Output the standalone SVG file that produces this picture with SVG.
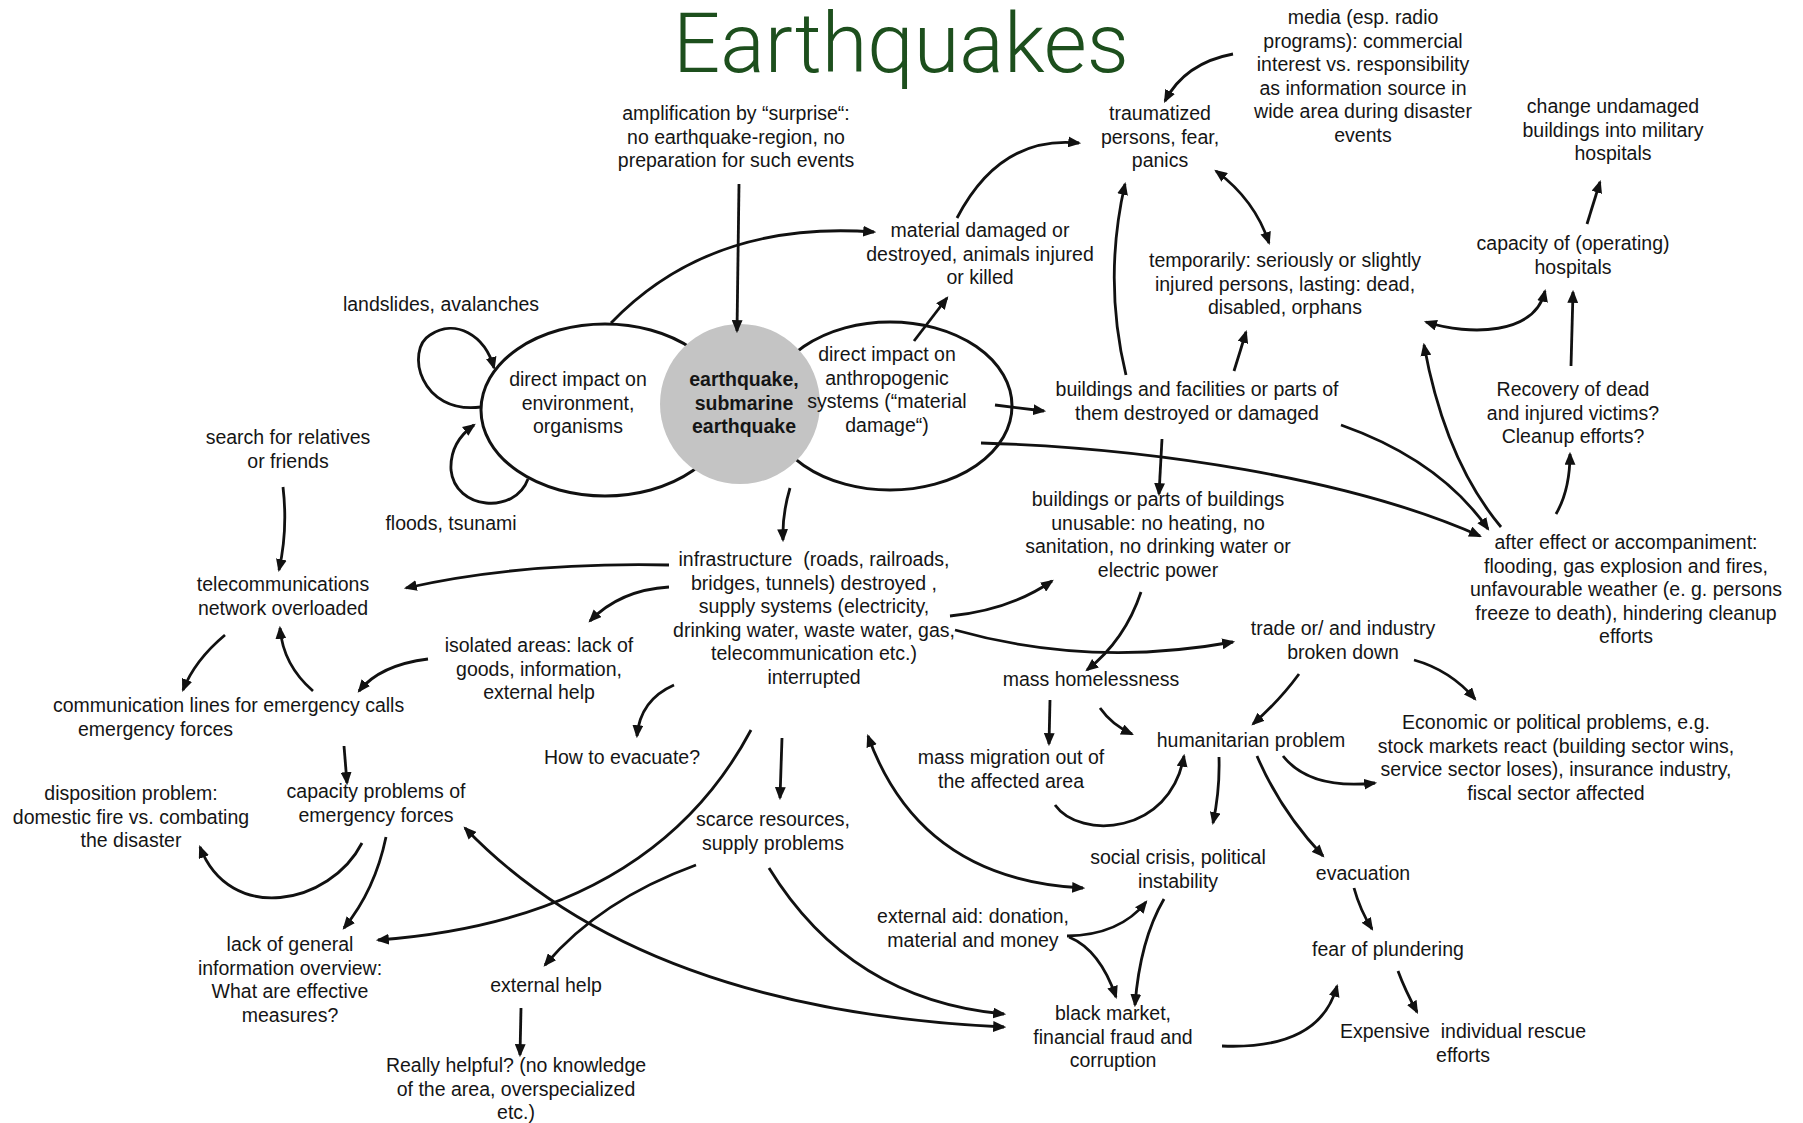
<svg xmlns="http://www.w3.org/2000/svg" width="1803" height="1123" viewBox="0 0 1803 1123">
  <style>
    .t { font-family: "Liberation Sans", Arial, sans-serif; font-size: 19.5px; fill: #151515; text-anchor: middle; }
    .b { font-weight: bold; }
    .title { font-family: Roboto, "Liberation Sans", sans-serif; font-weight: 300; font-size: 84px; fill: #1d4f1d; text-anchor: middle; }
    .c { fill: none; stroke: #111; stroke-width: 2.8; marker-end: url(#ah); }
    .d { marker-start: url(#ah); }
  </style>
  <defs>
    <marker id="ah" viewBox="0 0 12 10" refX="10" refY="5" markerWidth="13" markerHeight="11" markerUnits="userSpaceOnUse" orient="auto-start-reverse">
      <path d="M0,0 L12,5 L0,10 z" fill="#111"/>
    </marker>
  </defs>
  <rect width="1803" height="1123" fill="#fff"/>

  <text class="title" x="901" y="72" textLength="456" lengthAdjust="spacingAndGlyphs">Earthquakes</text>

  <!-- central core: two impact ellipses with the quake disc on top -->
  <g id="core">
    <ellipse cx="605" cy="410" rx="124" ry="86" fill="#fff" stroke="#111" stroke-width="3"/>
    <ellipse cx="890" cy="406" rx="122" ry="84" fill="#fff" stroke="#111" stroke-width="3"/>
    <circle cx="740" cy="404" r="80" fill="#c4c4c4"/>
  </g>

  <g id="connectors">
    <path class="c" d="M1233,54 Q1185,63 1165,101"/>
    <path class="c" d="M957,218 Q1000,135 1079,143"/>
    <path class="c" d="M739,184 L737,331"/>
    <path class="c" d="M611,323 Q710,220 874,232"/>
    <path class="c" d="M914,341 L947,298"/>
    <path class="c" d="M995,405 Q1020,408 1044,411"/>
    <path class="c" d="M981,443 C1150,448 1350,478 1480,536"/>
    <path class="c" d="M1126,375 Q1103,280 1125,184"/>
    <path class="c" d="M1234,371 Q1240,352 1246,332"/>
    <path class="c d" d="M1216,171 Q1255,200 1269,243"/>
    <path class="c" d="M1341,425 Q1440,460 1488,529"/>
    <path class="c" d="M1162,439 L1159,494"/>
    <path class="c" d="M1501,527 Q1445,460 1424,345"/>
    <path class="c d" d="M1426,322 C1470,336 1535,335 1545,291"/>
    <path class="c" d="M1587,224 L1600,182"/>
    <path class="c" d="M1571,366 L1573,292"/>
    <path class="c" d="M1556,514 Q1570,490 1570,454"/>
    <path class="c" d="M790,488 Q782,515 783,540"/>
    <path class="c" d="M669,565 Q520,562 406,588"/>
    <path class="c" d="M669,587 Q620,590 590,621"/>
    <path class="c" d="M950,616 Q1010,610 1052,581"/>
    <path class="c" d="M955,630 Q1090,668 1233,642"/>
    <path class="c" d="M1141,592 Q1125,640 1087,670"/>
    <path class="c" d="M674,685 Q640,700 637,736"/>
    <path class="c" d="M751,730 Q650,920 378,940"/>
    <path class="c" d="M782,738 L780,798"/>
    <path class="c d" d="M868,736 Q920,880 1083,888"/>
    <path class="c" d="M225,635 Q195,660 183,690"/>
    <path class="c" d="M313,691 Q283,665 280,628"/>
    <path class="c" d="M428,659 Q380,665 359,691"/>
    <path class="c" d="M283,487 Q288,530 279,570"/>
    <path class="c" d="M344,746 L347,783"/>
    <path class="c" d="M362,843 C330,905 230,925 200,847"/>
    <path class="c" d="M386,837 Q375,890 344,928"/>
    <path class="c d" d="M465,828 Q640,1010 1004,1027"/>
    <path class="c" d="M769,868 Q850,1000 1004,1014"/>
    <path class="c" d="M696,865 Q600,900 545,965"/>
    <path class="c" d="M521,1008 L520,1055"/>
    <path class="c" d="M1050,700 L1049,744"/>
    <path class="c" d="M1100,708 Q1112,725 1132,734"/>
    <path class="c" d="M1299,674 Q1280,700 1253,724"/>
    <path class="c" d="M1414,660 Q1450,670 1475,699"/>
    <path class="c" d="M1283,756 Q1310,790 1375,783"/>
    <path class="c" d="M1055,805 C1080,840 1170,835 1184,756"/>
    <path class="c" d="M1219,757 Q1220,790 1213,823"/>
    <path class="c" d="M1257,756 Q1280,810 1323,856"/>
    <path class="c" d="M1164,899 Q1140,940 1135,1005"/>
    <path class="c" d="M1067,936 Q1120,935 1146,902"/>
    <path class="c" d="M1069,937 Q1100,950 1116,997"/>
    <path class="c" d="M1354,888 Q1360,910 1372,929"/>
    <path class="c" d="M1222,1046 Q1320,1050 1337,986"/>
    <path class="c" d="M1398,971 Q1405,990 1417,1012"/>
    <!-- self loops on the environment ellipse -->
    <path class="c" d="M481,407 C420,415 405,350 430,335 C455,318 485,335 494,368"/>
    <path class="c" d="M528,479 C515,515 455,510 451,470 C450,450 460,435 474,425"/>
  </g>

  <g id="n-media"><text class="t"><tspan x="1363" y="24">media (esp. radio</tspan><tspan x="1363" y="47.5">programs): commercial</tspan><tspan x="1363" y="71">interest vs. responsibility</tspan><tspan x="1363" y="94.5">as information source in</tspan><tspan x="1363" y="118">wide area during disaster</tspan><tspan x="1363" y="141.5">events</tspan></text></g>
  <g id="n-traumatized"><text class="t"><tspan x="1160" y="120">traumatized</tspan><tspan x="1160" y="143.5">persons, fear,</tspan><tspan x="1160" y="167">panics</tspan></text></g>
  <g id="n-amplification"><text class="t"><tspan x="736" y="120">amplification by “surprise“:</tspan><tspan x="736" y="143.5">no earthquake-region, no</tspan><tspan x="736" y="167">preparation for such events</tspan></text></g>
  <g id="n-military"><text class="t"><tspan x="1613" y="113">change undamaged</tspan><tspan x="1613" y="136.5">buildings into military</tspan><tspan x="1613" y="160">hospitals</tspan></text></g>
  <g id="n-material"><text class="t"><tspan x="980" y="237">material damaged or</tspan><tspan x="980" y="260.5">destroyed, animals injured</tspan><tspan x="980" y="284">or killed</tspan></text></g>
  <g id="n-injured"><text class="t"><tspan x="1285" y="267">temporarily: seriously or slightly</tspan><tspan x="1285" y="290.5">injured persons, lasting: dead,</tspan><tspan x="1285" y="314">disabled, orphans</tspan></text></g>
  <g id="n-hospitals"><text class="t"><tspan x="1573" y="250">capacity of (operating)</tspan><tspan x="1573" y="273.5">hospitals</tspan></text></g>
  <g id="n-landslides"><text class="t" x="441" y="311">landslides, avalanches</text></g>
  <g id="n-environment"><text class="t"><tspan x="578" y="386">direct impact on</tspan><tspan x="578" y="409.5">environment,</tspan><tspan x="578" y="433">organisms</tspan></text></g>
  <g id="n-quake"><text class="t b"><tspan x="744" y="386">earthquake,</tspan><tspan x="744" y="409.5">submarine</tspan><tspan x="744" y="433">earthquake</tspan></text></g>
  <g id="n-anthropogenic"><text class="t"><tspan x="887" y="361">direct impact on</tspan><tspan x="887" y="384.5">anthropogenic</tspan><tspan x="887" y="408">systems (“material</tspan><tspan x="887" y="431.5">damage“)</tspan></text></g>
  <g id="n-buildings"><text class="t"><tspan x="1197" y="396">buildings and facilities or parts of</tspan><tspan x="1197" y="419.5">them destroyed or damaged</tspan></text></g>
  <g id="n-recovery"><text class="t"><tspan x="1573" y="396">Recovery of dead</tspan><tspan x="1573" y="419.5">and injured victims?</tspan><tspan x="1573" y="443">Cleanup efforts?</tspan></text></g>
  <g id="n-search"><text class="t"><tspan x="288" y="444">search for relatives</tspan><tspan x="288" y="467.5">or friends</tspan></text></g>
  <g id="n-floods"><text class="t" x="451" y="530">floods, tsunami</text></g>
  <g id="n-unusable"><text class="t"><tspan x="1158" y="506">buildings or parts of buildings</tspan><tspan x="1158" y="529.5">unusable: no heating, no</tspan><tspan x="1158" y="553">sanitation, no drinking water or</tspan><tspan x="1158" y="576.5">electric power</tspan></text></g>
  <g id="n-aftereffect"><text class="t"><tspan x="1626" y="549">after effect or accompaniment:</tspan><tspan x="1626" y="572.5">flooding, gas explosion and fires,</tspan><tspan x="1626" y="596">unfavourable weather (e. g. persons</tspan><tspan x="1626" y="619.5">freeze to death), hindering cleanup</tspan><tspan x="1626" y="643">efforts</tspan></text></g>
  <g id="n-telecom"><text class="t"><tspan x="283" y="591">telecommunications</tspan><tspan x="283" y="614.5">network overloaded</tspan></text></g>
  <g id="n-infrastructure"><text class="t" xml:space="preserve"><tspan x="814" y="566">infrastructure  (roads, railroads,</tspan><tspan x="814" y="589.5">bridges, tunnels) destroyed ,</tspan><tspan x="814" y="613">supply systems (electricity,</tspan><tspan x="814" y="636.5">drinking water, waste water, gas,</tspan><tspan x="814" y="660">telecommunication etc.)</tspan><tspan x="814" y="683.5">interrupted</tspan></text></g>
  <g id="n-trade"><text class="t"><tspan x="1343" y="635">trade or/ and industry</tspan><tspan x="1343" y="658.5">broken down</tspan></text></g>
  <g id="n-isolated"><text class="t"><tspan x="539" y="652">isolated areas: lack of</tspan><tspan x="539" y="675.5">goods, information,</tspan><tspan x="539" y="699">external help</tspan></text></g>
  <g id="n-homelessness"><text class="t" x="1091" y="686">mass homelessness</text></g>
  <g id="n-commlines"><text class="t" style="text-anchor:start"><tspan x="53" y="712">communication lines for emergency calls</tspan><tspan x="78" y="735.5">emergency forces</tspan></text></g>
  <g id="n-howevacuate"><text class="t" x="622" y="764">How to evacuate?</text></g>
  <g id="n-humanitarian"><text class="t" x="1251" y="747">humanitarian problem</text></g>
  <g id="n-economic"><text class="t"><tspan x="1556" y="729">Economic or political problems, e.g.</tspan><tspan x="1556" y="752.5">stock markets react (building sector wins,</tspan><tspan x="1556" y="776">service sector loses), insurance industry,</tspan><tspan x="1556" y="799.5">fiscal sector affected</tspan></text></g>
  <g id="n-migration"><text class="t"><tspan x="1011" y="764">mass migration out of</tspan><tspan x="1011" y="787.5">the affected area</tspan></text></g>
  <g id="n-disposition"><text class="t"><tspan x="131" y="800">disposition problem:</tspan><tspan x="131" y="823.5">domestic fire vs. combating</tspan><tspan x="131" y="847">the disaster</tspan></text></g>
  <g id="n-capacity"><text class="t"><tspan x="376" y="798">capacity problems of</tspan><tspan x="376" y="821.5">emergency forces</tspan></text></g>
  <g id="n-scarce"><text class="t"><tspan x="773" y="826">scarce resources,</tspan><tspan x="773" y="849.5">supply problems</tspan></text></g>
  <g id="n-social"><text class="t"><tspan x="1178" y="864">social crisis, political</tspan><tspan x="1178" y="887.5">instability</tspan></text></g>
  <g id="n-evacuation"><text class="t" x="1363" y="880">evacuation</text></g>
  <g id="n-aid"><text class="t"><tspan x="973" y="923">external aid: donation,</tspan><tspan x="973" y="946.5">material and money</tspan></text></g>
  <g id="n-overview"><text class="t"><tspan x="290" y="951">lack of general</tspan><tspan x="290" y="974.5">information overview:</tspan><tspan x="290" y="998">What are effective</tspan><tspan x="290" y="1021.5">measures?</tspan></text></g>
  <g id="n-plundering"><text class="t" x="1388" y="956">fear of plundering</text></g>
  <g id="n-externalhelp"><text class="t" x="546" y="992">external help</text></g>
  <g id="n-blackmarket"><text class="t"><tspan x="1113" y="1020">black market,</tspan><tspan x="1113" y="1043.5">financial fraud and</tspan><tspan x="1113" y="1067">corruption</tspan></text></g>
  <g id="n-rescue"><text class="t" xml:space="preserve"><tspan x="1463" y="1038">Expensive  individual rescue</tspan><tspan x="1463" y="1061.5">efforts</tspan></text></g>
  <g id="n-helpful"><text class="t"><tspan x="516" y="1072">Really helpful? (no knowledge</tspan><tspan x="516" y="1095.5">of the area, overspecialized</tspan><tspan x="516" y="1119">etc.)</tspan></text></g>
</svg>
